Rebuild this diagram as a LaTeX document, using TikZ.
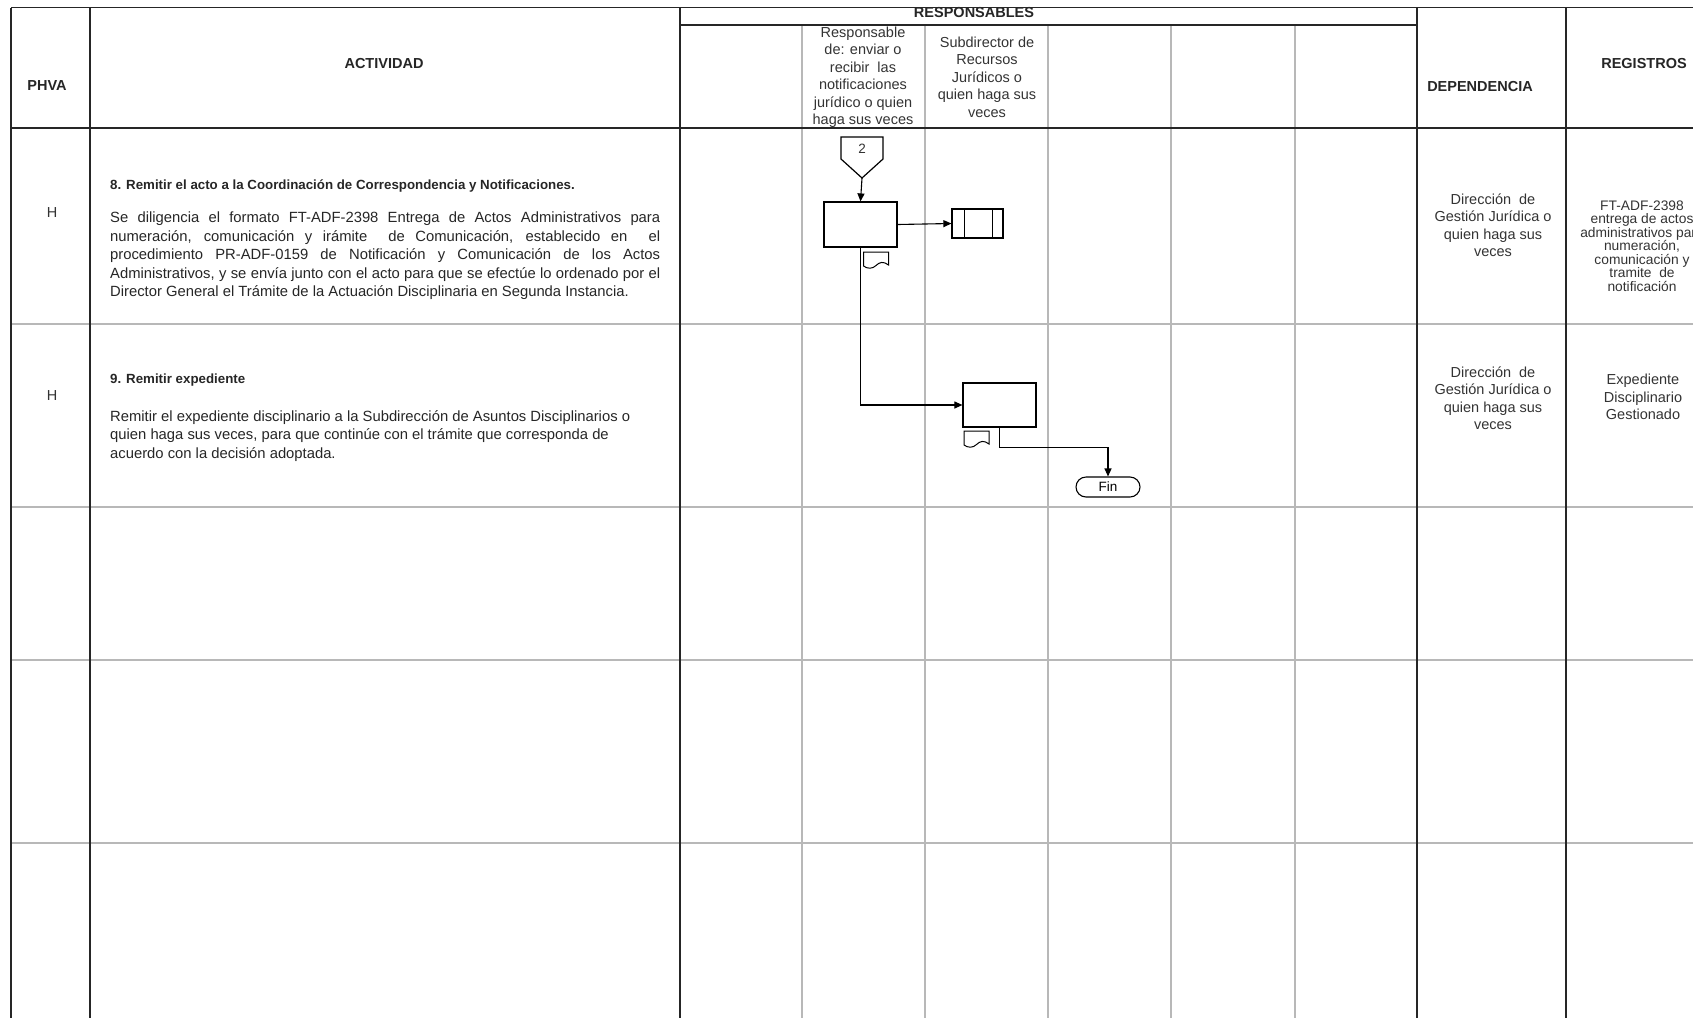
\documentclass[tikz,border=0pt]{standalone}
\usepackage{fontspec}
\setmainfont{Liberation Sans}
\usetikzlibrary{arrows.meta}

\begin{document}
\begin{tikzpicture}[x=1pt,y=-1pt,
  major/.style={line width=1.4pt,black!85},
  minor/.style={line width=1.4pt,black!28},
  head/.style={font=\fontsize{14.5}{17}\selectfont\bfseries,text=black!85},
  titulo/.style={font=\fontsize{13.3}{16}\selectfont\bfseries,text=black!85,inner sep=0pt},
  cell/.style={font=\fontsize{14.5}{17.5}\selectfont,align=center,text=black!80,inner sep=0pt},
  body/.style={font=\fontsize{14.8}{18.5}\selectfont,align=left,text=black!85,inner sep=0pt},
  procbox/.style={draw,line width=1.2pt,inner sep=0pt},
  flow/.style={line width=1.1pt,-{Triangle[length=8pt,width=7pt]}},
  docmark/.pic={\draw[line width=1pt] (0,0) -- (25,0) -- (25,13) .. controls (20,9) and (16,10) .. (12.5,13.5) .. controls (9,17) and (4,17) .. (0,14) -- cycle;}]

\useasboundingbox (0,0) rectangle (1693,1018);
\clip (0,0) rectangle (1693,1018);

\draw[minor] (11,324) -- (1693,324);
\draw[minor] (11,507) -- (1693,507);
\draw[minor] (11,660) -- (1693,660);
\draw[minor] (11,843) -- (1693,843);

\draw[minor] (802,25) -- (802,1018);
\draw[minor] (925,25) -- (925,1018);
\draw[minor] (1048,25) -- (1048,1018);
\draw[minor] (1171,25) -- (1171,1018);
\draw[minor] (1295,25) -- (1295,1018);

\draw[major] (11,7.5) -- (1693,7.5);
\draw[major] (680,25) -- (1417,25);
\draw[major] (11,128) -- (1693,128);
\draw[major] (11,7.5) -- (11,1018);
\draw[major] (90,7.5) -- (90,1018);
\draw[major] (680,7.5) -- (680,1018);
\draw[major] (1417,7.5) -- (1417,1018);
\draw[major] (1566,7.5) -- (1566,1018);

\node[head] (phva) at (47,86) {PHVA};
\node[head] (actividad) at (384,64) {ACTIVIDAD};
\node[head] (responsables) at (974,13) {RESPONSABLES};
\node[head] (dependencia) at (1480,87) {DEPENDENCIA};
\node[head] (registros) at (1644,64) {REGISTROS};

\node[cell] (resp1) at (863,77) {Responsable\\de: enviar o\\recibir\ \ las\\notificaciones\\jurídico o quien\\haga sus veces};
\node[cell] (resp2) at (987,77) {Subdirector de\\Recursos\\Jurídicos o\\quien haga sus\\veces};

\node[cell] (phva8) at (52,213) {H};
\node[titulo,anchor=west] (titulo8) at (110,186) {8. Remitir el acto a la Coordinación de Correspondencia y Notificaciones.};
\node[body,anchor=north west] (texto8) at (110,212) {%
\makebox[550pt][s]{Se diligencia el formato FT-ADF-2398 Entrega de Actos Administrativos para}\\
\makebox[550pt][s]{numeración, comunicación y irámite\ \ de Comunicación, establecido en\ \ el}\\
\makebox[550pt][s]{procedimiento PR-ADF-0159 de Notificación y Comunicación de los Actos}\\
\makebox[550pt][s]{Administrativos, y se envía junto con el acto para que se efectúe lo ordenado por el}\\
Director General el Trámite de la Actuación Disciplinaria en Segunda Instancia.};
\node[cell] (dep8) at (1493,225) {Dirección\ \ de\\Gestión Jurídica o\\quien haga sus\\veces};
\node[cell,font=\fontsize{13.8}{13.5}\selectfont] (reg8) at (1642,246) {FT-ADF-2398\\entrega de actos\\administrativos para\\numeración,\\comunicación y\\tramite\ \ de\\notificación};

\node[cell] (phva9) at (52,396) {H};
\node[titulo,anchor=west] (titulo9) at (110,380.5) {9. Remitir expediente};
\node[body,anchor=north west] (texto9) at (110,410) {Remitir el expediente disciplinario a la Subdirección de Asuntos Disciplinarios o\\
quien haga sus veces, para que continúe con el trámite que corresponda de\\
acuerdo con la decisión adoptada.};
\node[cell] (dep9) at (1493,398) {Dirección\ \ de\\Gestión Jurídica o\\quien haga sus\\veces};
\node[cell] (reg9) at (1643,397) {Expediente\\Disciplinario\\Gestionado};

\draw[line width=1.2pt] (841,137) -- (883,137) -- (883,159) -- (862,178) -- (841,159) -- cycle;
\node[cell,font=\fontsize{13.5}{15}\selectfont] (conector2) at (862,149) {2};
\coordinate (punta2) at (862,178);

\node[procbox,minimum width=73pt,minimum height=45pt] (caja8) at (860.5,224.5) {};
\pic at (863.5,252) {docmark};
\node[procbox,minimum width=51pt,minimum height=29pt] (archivo8) at (977.5,223.5) {};
\draw[line width=1.2pt] ([xshift=13pt]archivo8.north west) -- ([xshift=13pt]archivo8.south west);
\draw[line width=1.2pt] ([xshift=-11pt]archivo8.north east) -- ([xshift=-11pt]archivo8.south east);

\node[procbox,minimum width=73pt,minimum height=44pt] (caja9) at (999.5,405) {};
\pic at (964,431) {docmark};
\node[draw,line width=1.1pt,rounded corners=10pt,minimum width=64pt,minimum height=20pt,inner sep=0pt,font=\fontsize{13.5}{15}\selectfont] (fin) at (1108,487) {Fin};

\draw[flow] (punta2) -- (caja8.north);
\draw[flow] (caja8.east) -- (archivo8.west);
\draw[flow] (caja8.south) |- (caja9.west);
\draw[flow] (caja9.south) -- ++(0,20) -| (fin.north);
\end{tikzpicture}
\end{document}
